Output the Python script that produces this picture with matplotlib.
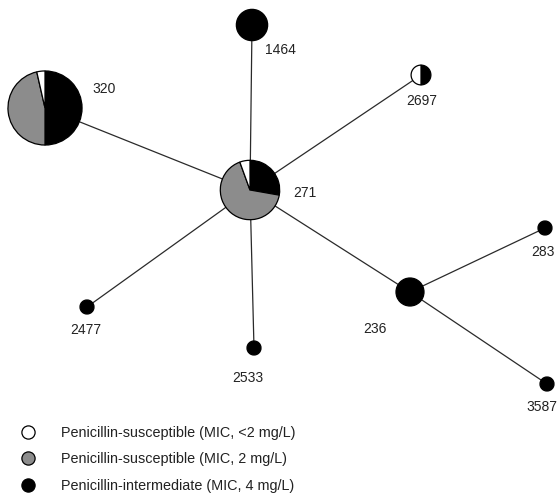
import matplotlib
matplotlib.use("Agg")
import matplotlib.pyplot as plt
from matplotlib.lines import Line2D
import math

plt.rcParams['font.family'] = ['Liberation Sans', 'DejaVu Sans']

W, H = 559, 497

# --- data: isolate counts per sequence type ---
sequence_types = ["271", "320", "1464", "2697", "283", "236", "3587", "2533", "2477"]
susceptible_lt2 = [1, 1, 0, 1, 0, 0, 0, 0, 0]   # white
susceptible_2 = [12, 13, 0, 0, 0, 0, 0, 0, 0]   # gray
intermediate_4 = [5, 14, 5, 1, 1, 4, 1, 1, 1]   # black
edges = [("271", "320"), ("271", "1464"), ("271", "2697"), ("271", "2477"),
         ("271", "2533"), ("271", "236"), ("236", "283"), ("236", "3587")]
legend_labels = ["Penicillin-susceptible (MIC, <2 mg/L)",
                 "Penicillin-susceptible (MIC, 2 mg/L)",
                 "Penicillin-intermediate (MIC, 4 mg/L)"]

# --- layout (pixel positions, y measured from top) ---
node_xy = {"271": (250, 190), "320": (45, 108), "1464": (252, 25),
           "2697": (421, 75), "283": (545, 228), "236": (410, 292),
           "3587": (547, 384), "2533": (254, 348), "2477": (87, 307)}
label_xy = {"271": (293, 193, 'left'), "320": (92, 89, 'left'),
            "1464": (265, 50, 'left'), "2697": (422, 101, 'center'),
            "283": (543, 252, 'center'), "236": (387, 329, 'right'),
            "3587": (542, 407, 'center'), "2533": (248, 378, 'center'),
            "2477": (86, 330, 'center')}
colors = ["white", "#8c8c8c", "black"]
unit_r = 7.0

fig = plt.figure(figsize=(W / 100, H / 100), dpi=100)
ax = fig.add_axes([0, 0, 1, 1])

def pos(st):
    x, y = node_xy[st]
    return x, H - y

for a, b in edges:
    (x1, y1), (x2, y2) = pos(a), pos(b)
    ax.plot([x1, x2], [y1, y2], color="#2a2a2a", lw=0.9, zorder=1)

for i, st in enumerate(sequence_types):
    vals = [intermediate_4[i], susceptible_2[i], susceptible_lt2[i]]
    cols = [colors[2], colors[1], colors[0]]
    n = sum(vals)
    r = unit_r * math.sqrt(n)
    keep = [(v, c) for v, c in zip(vals, cols) if v > 0]
    ax.pie([v for v, _ in keep], colors=[c for _, c in keep], center=pos(st),
           radius=r, startangle=90, counterclock=False, frame=True,
           wedgeprops=dict(edgecolor="black", linewidth=0.9, zorder=3))
    lx, ly, ha = label_xy[st]
    ax.text(lx, H - ly, st, ha=ha, va='center', fontsize=10, color="#222222", zorder=4)

handles = [Line2D([], [], ls='none', marker='o', markersize=9.5,
                  markerfacecolor=c, markeredgecolor='black', markeredgewidth=0.9)
           for c in colors]
leg = fig.legend(handles, legend_labels, loc='upper left',
                 bbox_to_anchor=(21 / W, 1 - 426 / H), frameon=False,
                 fontsize=10.4, borderpad=0, borderaxespad=0, handlelength=1.0,
                 handletextpad=1.75, labelspacing=0.85, labelcolor="#222222")

ax.set_xlim(0, W)
ax.set_ylim(0, H)
ax.set_aspect('equal')
ax.axis('off')
fig.savefig("out.png", dpi=100)
